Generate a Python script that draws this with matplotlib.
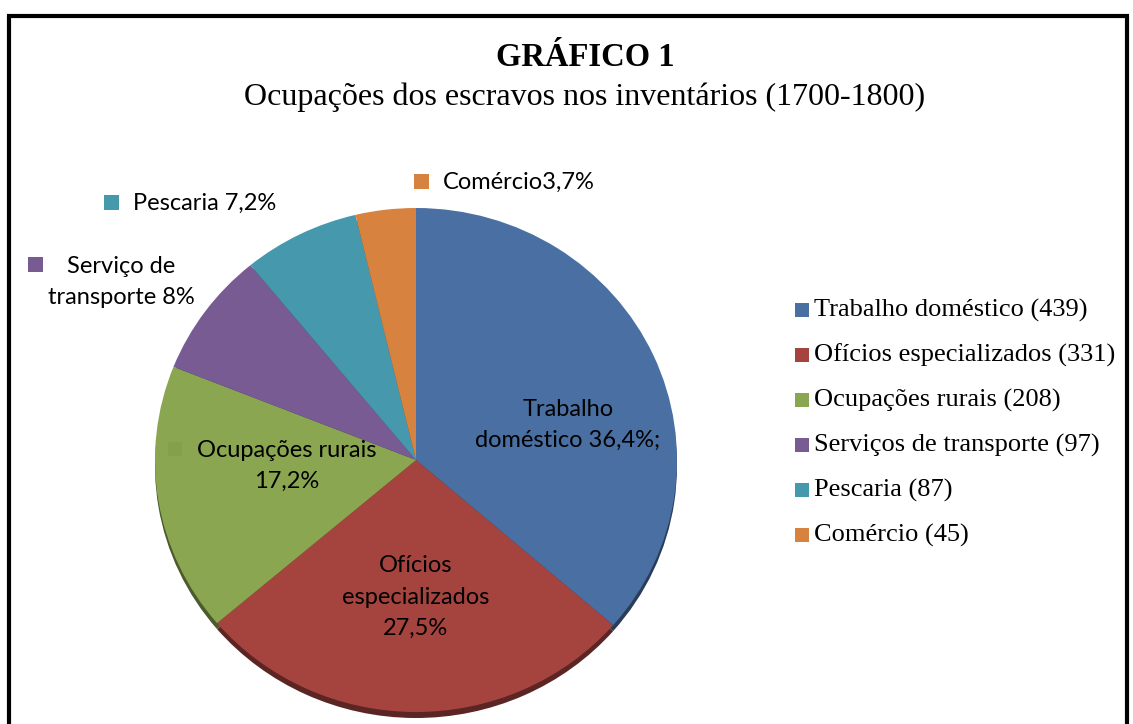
import matplotlib
matplotlib.use("Agg")
import matplotlib.pyplot as plt
import numpy as np
from matplotlib.colors import to_rgb

categories = ["Trabalho doméstico", "Ofícios especializados", "Ocupações rurais",
              "Serviços de transporte", "Pescaria", "Comércio"]
counts = [439, 331, 208, 97, 87, 45]
slice_labels = ["Trabalho\ndoméstico 36,4%;", "Ofícios\nespecializados\n27,5%",
                "Ocupações rurais\n17,2%", "Serviço de\ntransporte 8%",
                "Pescaria 7,2%", "Comércio3,7%"]
colors = ["#4A6FA3", "#A5443F", "#8BA650", "#775B92", "#4698AD", "#D8823F"]

W, H = 1133, 724
fig = plt.figure(figsize=(W / 100, H / 100), dpi=100)

# pie axes: slightly flattened vertically
k = 261 / 252
pax = fig.add_axes([0, 0, 1, 1])
cx, cy, r = 416, (H - 460) * k, 261
dark = [tuple(c * 0.55 for c in to_rgb(col)) for col in colors]
pax.pie(counts, colors=dark, startangle=90, counterclock=False,
        center=(cx, cy - 6 * k), radius=r, wedgeprops=dict(linewidth=0))
pax.pie(counts, colors=colors, startangle=90, counterclock=False,
        center=(cx, cy), radius=r, wedgeprops=dict(linewidth=0))
pax.set_xlim(0, W)
pax.set_ylim(0, H * k)
pax.set_aspect('auto')
pax.axis('off')

ax = fig.add_axes([0, 0, 1, 1])
ax.set_xlim(0, W)
ax.set_ylim(0, H)
ax.axis('off')
ax.patch.set_alpha(0)

def py(y):
    return H - y

sans = "Lato"
serif = "Liberation Serif"

# frame
ax.plot([9, 9, 1127, 1127], [py(740), py(16), py(16), py(740)], color='black',
        lw=3, solid_joinstyle='miter')

ax.text(585, py(58), "GRÁFICO 1", family=serif, weight='bold', fontsize=23.5,
        ha='center', va='center')
ax.text(585, py(97), "Ocupações dos escravos nos inventários (1700-1800)",
        family=serif, fontsize=23, ha='center', va='center')

fs = 17
ls = 1.6
# inside labels
ax.text(568, py(425), slice_labels[0], family=sans, fontsize=fs, ha='center',
        va='center', linespacing=ls)
ax.text(416, py(597), slice_labels[1], family=sans, fontsize=fs, ha='center',
        va='center', linespacing=ls)
ax.text(287, py(466), slice_labels[2], family=sans, fontsize=fs, ha='center',
        va='center', linespacing=ls)
ax.add_patch(plt.Rectangle((168, py(456)), 14, 14, color="#84A04A", ec='none'))
# outside labels
ax.add_patch(plt.Rectangle((28, py(272)), 15, 15, color=colors[3], ec='none'))
ax.text(121, py(282), slice_labels[3], family=sans, fontsize=fs, ha='center',
        va='center', linespacing=ls)
ax.add_patch(plt.Rectangle((104, py(210)), 15, 15, color=colors[4], ec='none'))
ax.text(133, py(203), slice_labels[4], family=sans, fontsize=fs, ha='left',
        va='center')
ax.add_patch(plt.Rectangle((414, py(189)), 15, 15, color=colors[5], ec='none'))
ax.text(443, py(182), slice_labels[5], family=sans, fontsize=fs, ha='left',
        va='center')

# legend
for i, (cat, n) in enumerate(zip(categories, counts)):
    y = 310 + 45 * i
    ax.add_patch(plt.Rectangle((795, py(y + 7)), 14, 14, color=colors[i], ec='none'))
    ax.text(814, py(y), f"{cat} ({n})", family=serif, fontsize=19, ha='left',
            va='center')

fig.savefig("out.png", dpi=100)
